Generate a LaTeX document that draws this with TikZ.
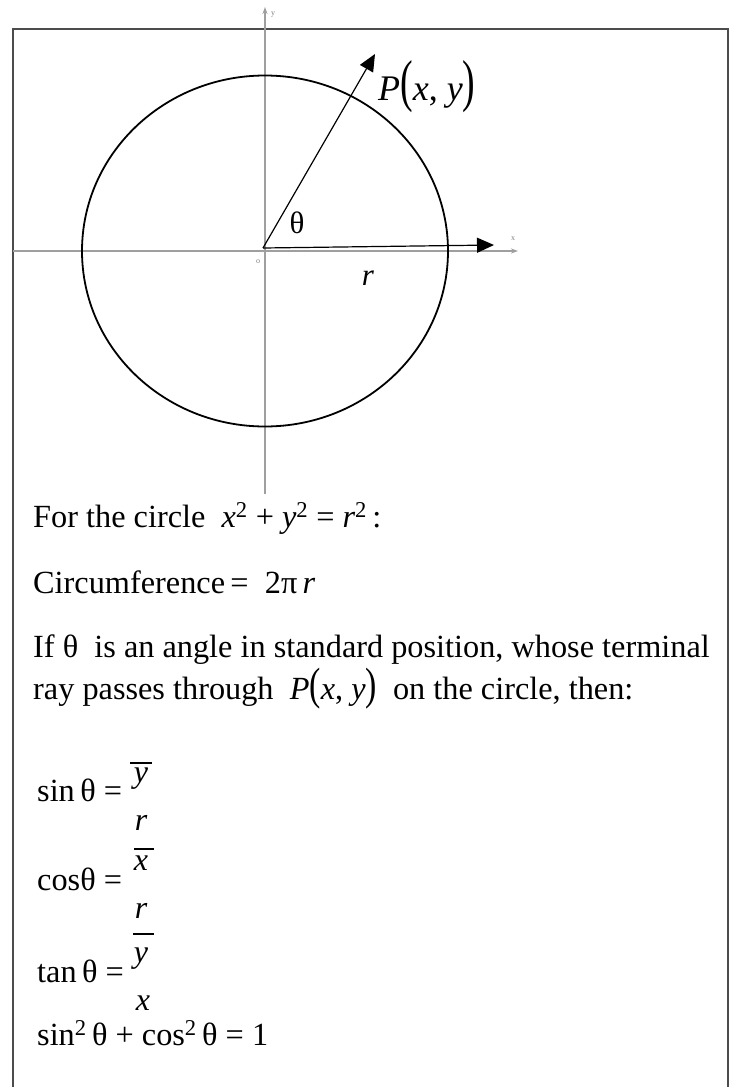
\documentclass[tikz,border=0pt]{standalone}
\usepackage{fontspec}
\usepackage{graphicx}
\setmainfont{Liberation Serif}
\usetikzlibrary{arrows.meta}
\newcommand\tallparen[1]{\scalebox{1.05}[1.6]{#1}}
\newcommand\midparen[1]{\scalebox{1.05}[1.4]{#1}}
\begin{document}
\begin{tikzpicture}[x=1pt,y=-1pt,
  body/.style={anchor=base west, inner sep=0pt, font=\fontsize{32.3}{38}\selectfont},
  var/.style={anchor=base, inner sep=0pt, font=\fontsize{32}{38}\selectfont\itshape},
  lbl/.style={anchor=base, inner sep=0pt, font=\fontsize{31}{34}\selectfont},
  axisline/.style={draw=gray!75, line width=1.3pt, -{Stealth[length=7pt,width=5pt]}},
  axislabel/.style={inner sep=0pt, text=gray, font=\fontsize{8}{9}\selectfont},
  ray/.style={draw=black, line width=1.2pt, -{Triangle[length=17pt,width=15pt]}},
  framebox/.style={draw=black!70, line width=2pt},
  fracbar/.style={draw=black, line width=1.3pt},
  curve/.style={draw=black, line width=1.8pt}]
\useasboundingbox (0,0) rectangle (733,1087);
% frame
\coordinate (fbl) at (13,1087);
\coordinate (ftl) at (13,28.5);
\coordinate (ftr) at (728,28.5);
\coordinate (fbr) at (728,1087);
\draw[framebox] (fbl) -- (ftl) -- (ftr) -- (fbr);
% axes
\coordinate (O) at (265,251);
\coordinate (ybot) at (265,494);
\coordinate (ytop) at (265,7);
\coordinate (xleft) at (13,251);
\coordinate (xright) at (518,251);
\draw[axisline] (ybot) -- (ytop);
\draw[axisline] (xleft) -- (xright);
\node[axislabel] (ylab) at (273,15) {y};
\node[axislabel] (xlab) at (513,239) {x};
\node[axislabel] (olab) at (258,262) {o};
% circle
\draw[curve] (O) ellipse [x radius=183pt, y radius=175.5pt];
% rays
\coordinate (rs) at (263,248);
\coordinate (ptip) at (375,54);
\coordinate (rtip) at (494,245);
\draw[ray] (rs) -- (ptip);
\draw[ray] (rs) -- (rtip);
% diagram labels
\node[lbl] (th) at (297,233) {θ};
\node[lbl, font=\fontsize{31}{34}\selectfont\itshape] (rl) at (368,285) {r};
\node[anchor=base west, inner sep=0pt, font=\fontsize{36}{40}\selectfont] (P) at (378,100) {\textit{P}\tallparen{(}\textit{x}, \textit{y}\tallparen{)}};
% text
\node[body] (t1) at (33,527) {For the circle \ \textit{x}\textsuperscript{2} + \textit{y}\textsuperscript{2} = \textit{r}\textsuperscript{2}\,:};
\node[body] (t2) at (33,593) {Circumference\,=\ \ 2π\,\textit{r}};
\node[body] (t3) at (33,657) {If θ \ is an angle in standard position, whose terminal};
\node[body] (t4) at (33,699) {ray passes through \ \textit{P}\midparen{(}\textit{x}, \textit{y}\midparen{)} \ on the circle, then:};
% formulas
\node[body] (sinl) at (37,801) {sin\,θ =};
\coordinate (b1a) at (130,763); \coordinate (b1b) at (152,763);
\draw[fracbar] (b1a) -- (b1b);
\node[var] (sy) at (141,782) {y};
\node[var] (sr) at (141,830) {r};
\coordinate (b2a) at (134,849); \coordinate (b2b) at (154,849);
\draw[fracbar] (b2a) -- (b2b);
\node[var] (cx) at (141,870) {x};
\node[body] (cosl) at (37,890) {cosθ =};
\node[var] (cr) at (141,918) {r};
\coordinate (b3a) at (133,934); \coordinate (b3b) at (154,934);
\draw[fracbar] (b3a) -- (b3b);
\node[var] (ty) at (141,962) {y};
\node[body] (tanl) at (37,982) {tan\,θ =};
\node[var] (tx) at (143,1010) {x};
\node[body] (idl) at (37,1045) {sin\textsuperscript{2}\,θ + cos\textsuperscript{2}\,θ = 1};
\end{tikzpicture}
\end{document}
